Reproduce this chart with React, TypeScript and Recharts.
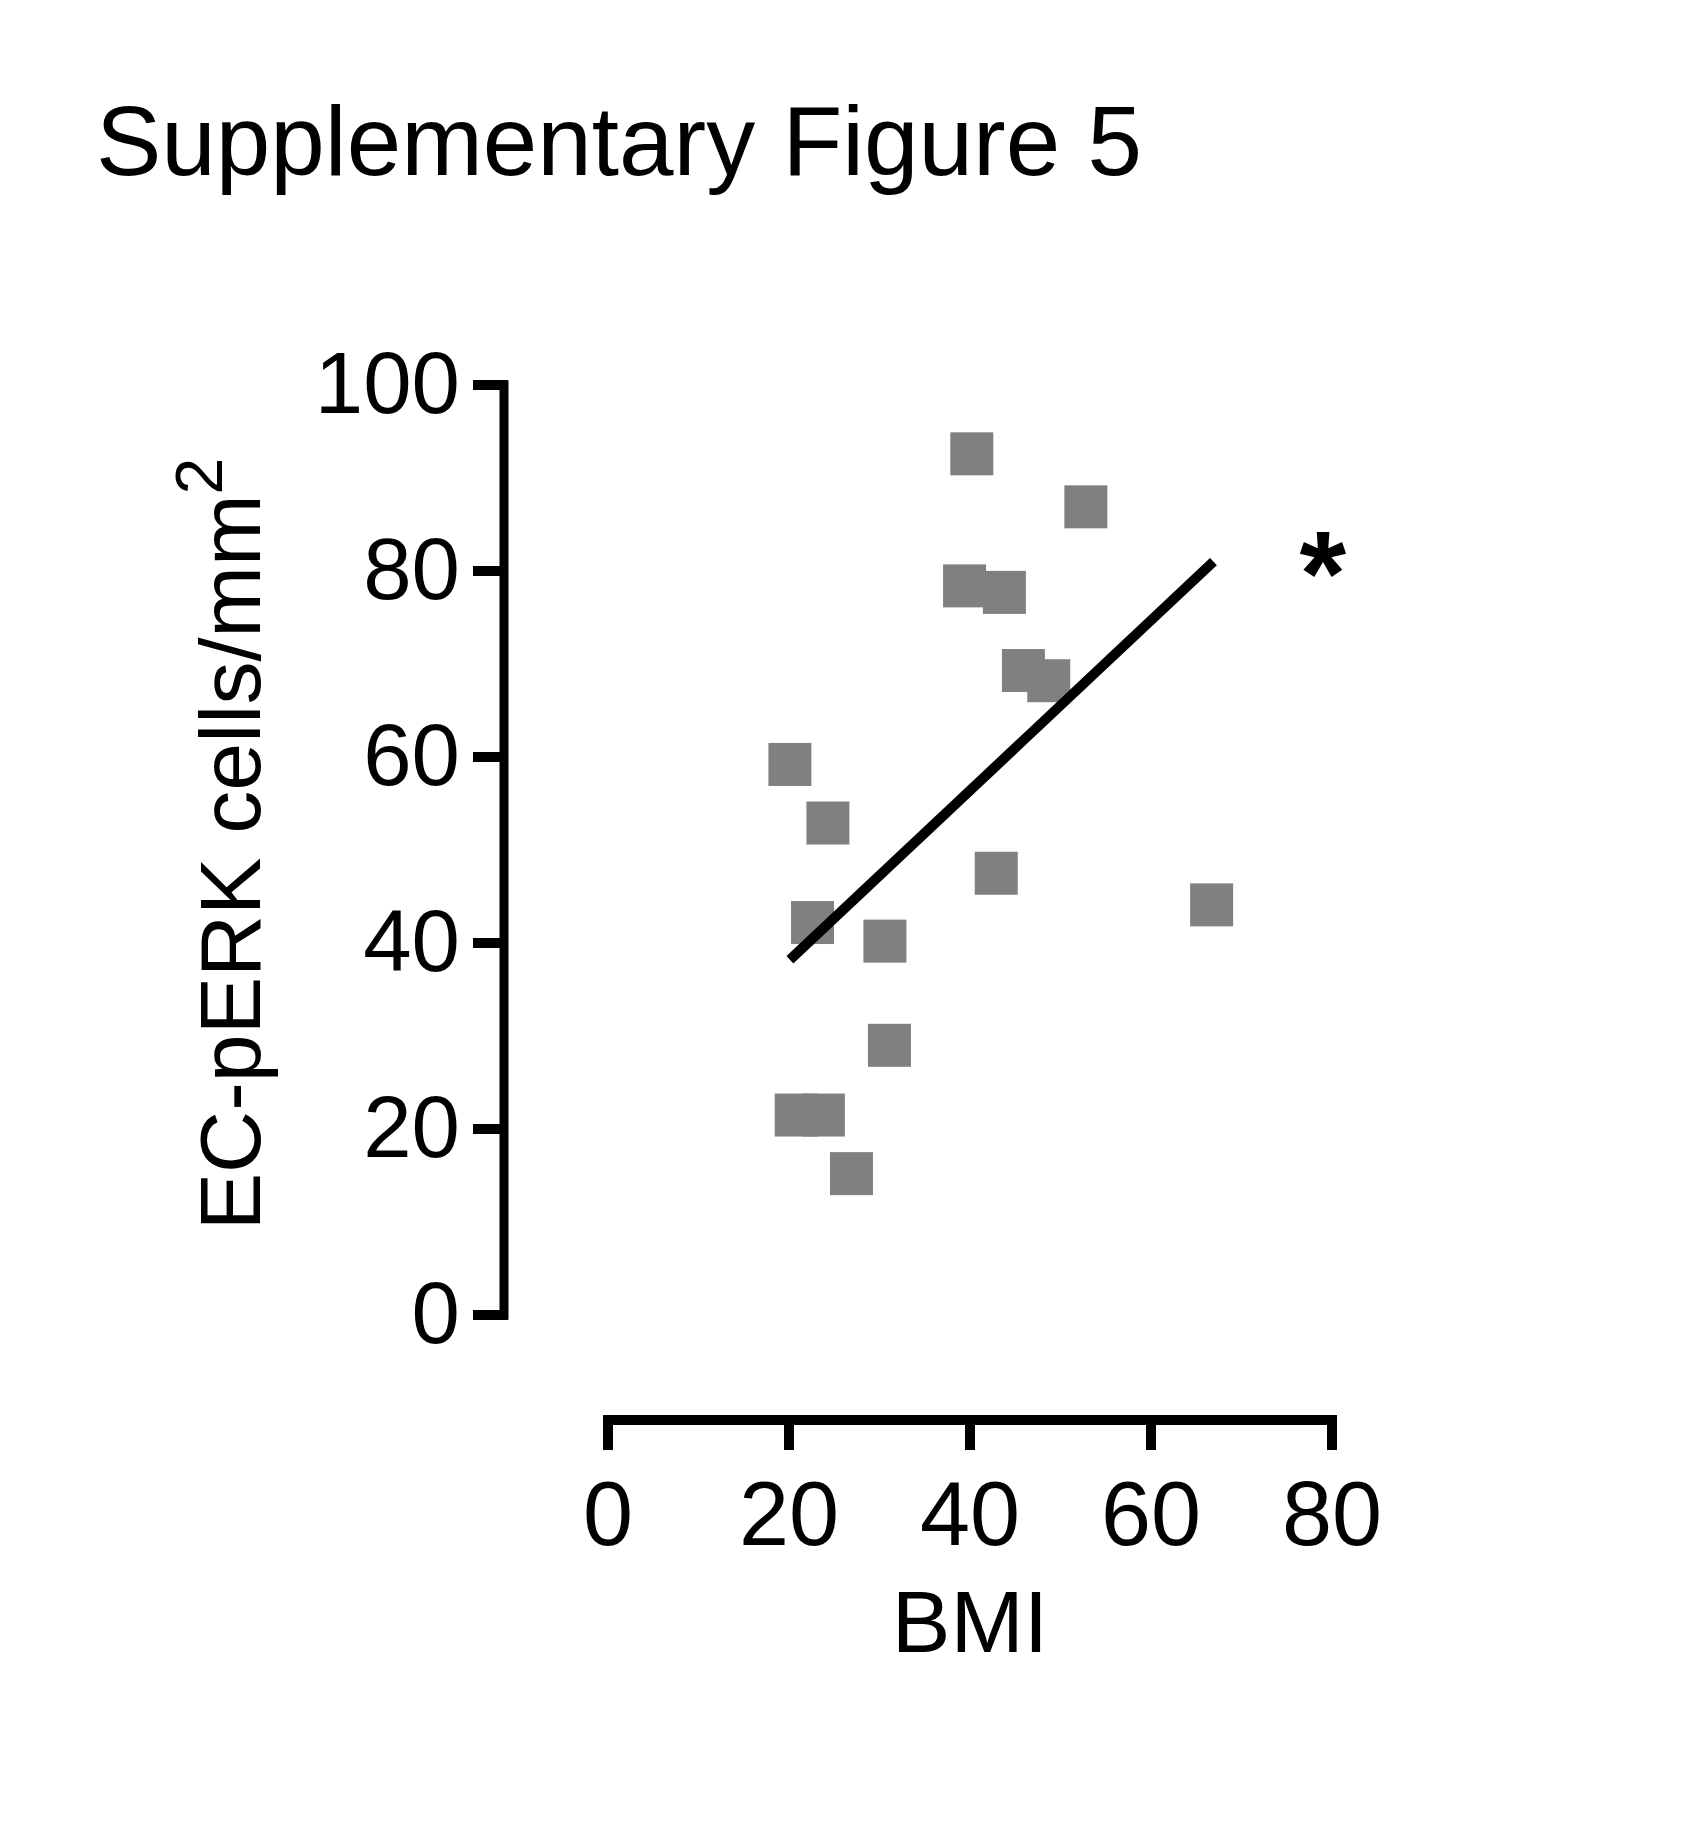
import React from "react";
import {
  ScatterChart,
  Scatter,
  XAxis,
  YAxis,
  ReferenceDot,
  Label,
} from "recharts";

/**
 * Supplementary Figure 5 — EC-pERK cells/mm² vs BMI
 * Prism-style offset axes: ticks and axis lines are drawn by custom tick components.
 */

const BMI = [20.1, 20.8, 22.6, 23.8, 24.3, 26.9, 30.6, 31.1, 39.4, 40.2, 42.9, 43.8, 45.9, 48.7, 52.8, 66.7];
const PERK = [59.2, 21.5, 42.2, 21.5, 52.9, 15.2, 40.2, 29.0, 78.4, 92.6, 47.5, 77.7, 69.3, 68.2, 86.9, 44.1];

// regression line end points
const FIT_X = [20.1, 66.9];
const FIT_Y = [38.2, 81.0];

const X_TICKS = [0, 20, 40, 60, 80];
const Y_TICKS = [0, 20, 40, 60, 80, 100];

const TITLE = "Supplementary Figure 5";
const X_TITLE = "BMI";
const Y_TITLE = "EC-pERK cells/mm";

const FONT = '"Liberation Sans", Arial, Helvetica, sans-serif';
const W = 1684;
const H = 1832;
const MARGIN = { top: 385, right: 352, bottom: 516, left: 607 };
const GAP = 104; // distance from plot edge to offset axis line
const TICK_LEN = 31;
const MARKER = 43;

const points = BMI.map((x, i) => ({ x, y: PERK[i] }));
const fit = FIT_X.map((x, i) => ({ x, y: FIT_Y[i] }));

function YTick(props: any) {
  const { x, y, payload, height } = props;
  const ax = x - GAP;
  return (
    <g>
      {payload.value === 0 && (
        <line x1={ax} y1={y} x2={ax} y2={y - height} stroke="#000" strokeWidth={9} strokeLinecap="square" />
      )}
      <line x1={ax - TICK_LEN} y1={y} x2={ax + 4} y2={y} stroke="#000" strokeWidth={10} />
      <text x={ax - 44} y={y + 28} textAnchor="end" fontSize={87} fontFamily={FONT} fill="#000">
        {payload.value}
      </text>
    </g>
  );
}

function XTick(props: any) {
  const { x, y, payload, width } = props;
  const ay = y + GAP + 1;
  return (
    <g>
      {payload.value === 0 && (
        <line x1={x} y1={ay} x2={x + width} y2={ay} stroke="#000" strokeWidth={10} strokeLinecap="square" />
      )}
      <line x1={x} y1={ay - 4} x2={x} y2={ay + 30} stroke="#000" strokeWidth={10} />
      <text x={x} y={ay + 125} textAnchor="middle" fontSize={90} fontFamily={FONT} fill="#000">
        {payload.value}
      </text>
    </g>
  );
}

function SquareMarker(props: any) {
  const { cx, cy } = props;
  return <rect x={cx - MARKER / 2} y={cy - MARKER / 2} width={MARKER} height={MARKER} fill="#808080" />;
}

function XTitle(props: any) {
  const { viewBox } = props;
  return (
    <text x={viewBox.x + viewBox.width / 2} y={viewBox.y + 337} textAnchor="middle" fontSize={88} fontFamily={FONT} fill="#000">
      {X_TITLE}
    </text>
  );
}

function YTitle(props: any) {
  const { viewBox } = props;
  const tx = viewBox.x + viewBox.width - 348;
  const ty = viewBox.y + viewBox.height / 2 - 6;
  return (
    <text
      x={tx}
      y={ty}
      transform={`rotate(-90, ${tx}, ${ty})`}
      textAnchor="middle"
      fontSize={86}
      fontFamily={FONT}
      fill="#000"
    >
      {Y_TITLE}
      <tspan dy={-38} fontSize={66}>2</tspan>
    </text>
  );
}

function Asterisk(props: any) {
  const { cx, cy } = props;
  return (
    <text x={cx} y={cy + 62} textAnchor="middle" fontSize={120} fontWeight="bold" fontFamily={FONT} fill="#000">
      *
    </text>
  );
}

export default function App() {
  return (
    <div style={{ position: "absolute", left: 0, top: 0, width: W, height: H, background: "#fff" }}>
      <ScatterChart width={W} height={H} margin={MARGIN}>
        <XAxis
          type="number"
          dataKey="x"
          domain={[0, 80]}
          ticks={X_TICKS}
          height={1}
          axisLine={false}
          tickLine={false}
          tickSize={0}
          tickMargin={0}
          tick={<XTick />}
          interval={0}
        >
          <Label content={<XTitle />} />
        </XAxis>
        <YAxis
          type="number"
          dataKey="y"
          domain={[0, 100]}
          ticks={Y_TICKS}
          width={1}
          axisLine={false}
          tickLine={false}
          tickSize={0}
          tickMargin={0}
          tick={<YTick />}
          interval={0}
        >
          <Label content={<YTitle />} />
        </YAxis>
        <Scatter data={points} shape={<SquareMarker />} isAnimationActive={false} />
        <Scatter
          data={fit}
          line={{ stroke: "#000", strokeWidth: 10 }}
          shape={() => <g />}
          isAnimationActive={false}
        />
        <ReferenceDot x={79} y={81.9} r={0} shape={<Asterisk />} />
      </ScatterChart>
      <svg width={W} height={260} style={{ position: "absolute", left: 0, top: 0, pointerEvents: "none" }}>
        <text x={96} y={175} fontSize={98} fontFamily={FONT} fill="#000">
          {TITLE}
        </text>
      </svg>
    </div>
  );
}
